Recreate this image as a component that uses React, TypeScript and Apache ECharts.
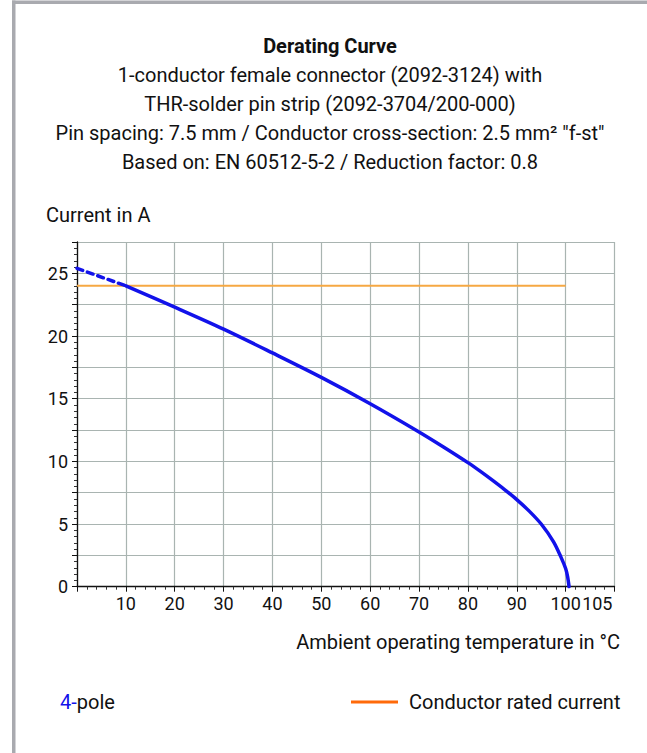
import React, { useEffect, useRef } from "react";
import * as echarts from "echarts";

// ---- data ----
const titleLines = [
  "Derating Curve",
  "1-conductor female connector (2092-3124) with",
  "THR-solder pin strip (2092-3704/200-000)",
  "Pin spacing: 7.5 mm / Conductor cross-section: 2.5 mm² \"f-st\"",
  "Based on: EN 60512-5-2 / Reduction factor: 0.8",
];
const yAxisTitle = "Current in A";
const xAxisTitle = "Ambient operating temperature in °C";
const seriesName = "4-pole";
const ratedName = "Conductor rated current";

// dashed extrapolated part of the 4-pole curve
const dashedX = [0, 10];
const dashedY = [25.4, 24.0];
// solid 4-pole curve
const curveX = [10, 20, 30, 40, 50, 60, 70, 75, 80, 82.5, 85, 87.5, 90, 92.5, 95, 97.5, 99, 100, 100.4, 100.7];
const curveY = [24.0, 22.3, 20.55, 18.65, 16.7, 14.6, 12.35, 11.15, 9.9, 9.22, 8.5, 7.75, 6.95, 6.05, 5.0, 3.6, 2.4, 1.45, 0.8, 0];
// conductor rated current
const ratedX = [0, 100];
const ratedY = [24, 24];

const xTickLabels: Record<number, string> = { 10: "10", 20: "20", 30: "30", 40: "40", 50: "50", 60: "60", 70: "70", 80: "80", 90: "90", 100: "100" };
const xEndLabel = "105";

const FONT = "Roboto, 'Noto Sans', sans-serif";
const BLUE = "#1212ea";

export default function App() {
  const ref = useRef<HTMLDivElement>(null);
  useEffect(() => {
    if (!ref.current) return;
    const chart = echarts.init(ref.current, undefined, { renderer: "svg" });
    const zip = (xs: number[], ys: number[]) => xs.map((x, i) => [x, ys[i]]);
    const titleText = titleLines.map((l, i) => (i === 0 ? `{b|${l}}` : `{n|${l}}`)).join("\n");
    chart.setOption({
      animation: false,
      backgroundColor: "#ffffff",
      textStyle: { fontFamily: FONT },
      grid: { left: 77, top: 242, width: 537.5, height: 344.7, containLabel: false },
      xAxis: [
        {
          type: "value",
          min: 0,
          max: 110,
          interval: 10,
          axisLine: { show: true, onZero: false, lineStyle: { color: "#111", width: 1.3 } },
          axisTick: { show: true, length: 5, lineStyle: { color: "#111" } },
          minorTick: { show: true, splitNumber: 5, length: 3, lineStyle: { color: "#333" } },
          splitLine: { show: true, lineStyle: { color: "#a9b4b1", width: 1.2 } },
          axisLabel: {
            margin: 8,
            color: "#111",
            fontSize: 18,
            fontFamily: FONT,
            showMaxLabel: false,
            formatter: (v: number) => xTickLabels[v] ?? "",
          },
        },
        {
          type: "value",
          position: "bottom",
          min: 0,
          max: 110,
          interval: 10,
          axisLine: { show: false },
          axisTick: { show: false },
          splitLine: { show: false },
          axisLabel: {
            margin: 8,
            color: "#111",
            fontSize: 18,
            fontFamily: FONT,
            align: "right",
            showMaxLabel: true,
            padding: [0, 2, 0, 0],
            formatter: (v: number) => (v === 110 ? xEndLabel : ""),
          },
        },
      ],
      yAxis: {
        type: "value",
        min: 0,
        max: 27.5,
        interval: 2.5,
        axisLine: { show: true, onZero: false, lineStyle: { color: "#111", width: 1.3 } },
        axisTick: { show: true, length: 5, lineStyle: { color: "#111" } },
        minorTick: { show: true, splitNumber: 5, length: 3, lineStyle: { color: "#333" } },
        splitLine: { show: true, lineStyle: { color: "#a9b4b1", width: 1.2 } },
        axisLabel: {
          margin: 9,
          color: "#111",
          fontSize: 18,
          fontFamily: FONT,
          formatter: (v: number) => (v % 5 === 0 ? String(v) : ""),
        },
      },
      series: [
        {
          name: ratedName,
          type: "line",
          data: zip(ratedX, ratedY),
          showSymbol: false,
          silent: true,
          lineStyle: { color: "#f6a843", width: 2 },
        },
        {
          name: seriesName + " (extrapolated)",
          type: "line",
          data: zip(dashedX, dashedY),
          showSymbol: false,
          silent: true,
          lineStyle: { color: BLUE, width: 3.5, type: [6, 5], cap: "round" },
        },
        {
          name: seriesName,
          type: "line",
          data: zip(curveX, curveY),
          showSymbol: false,
          silent: true,
          smooth: 0.3,
          lineStyle: { color: BLUE, width: 3.5, cap: "round" },
        },
      ],
      graphic: [
        { type: "rect", shape: { x: 12, y: 0.5, width: 3.5, height: 753 }, style: { fill: "#a9aaaf" }, silent: true },
        { type: "rect", shape: { x: 12, y: 0.5, width: 635, height: 3.5 }, style: { fill: "#a9aaaf" }, silent: true },
        {
          type: "text",
          x: 330,
          y: 31.5,
          silent: true,
          style: {
            text: titleText,
            align: "center",
            verticalAlign: "top",
            fill: "#111",
            rich: {
              b: { fontFamily: FONT, fontSize: 20, fontWeight: "bold", lineHeight: 29, fill: "#111", align: "center" },
              n: { fontFamily: FONT, fontSize: 20, lineHeight: 29, fill: "#111", align: "center" },
            },
          },
        },
        {
          type: "text",
          x: 46,
          y: 215,
          silent: true,
          style: { text: yAxisTitle, fontFamily: FONT, fontSize: 20, fill: "#111", align: "left", verticalAlign: "middle" },
        },
        {
          type: "text",
          x: 620,
          y: 642,
          silent: true,
          style: { text: xAxisTitle, fontFamily: FONT, fontSize: 20, fill: "#111", align: "right", verticalAlign: "middle" },
        },
        {
          type: "text",
          x: 60,
          y: 702,
          silent: true,
          style: {
            text: "{c|4-}{k|pole}",
            align: "left",
            verticalAlign: "middle",
            rich: {
              c: { fontFamily: FONT, fontSize: 20, fill: BLUE },
              k: { fontFamily: FONT, fontSize: 20, fill: "#111" },
            },
          },
        },
        {
          type: "line",
          silent: true,
          shape: { x1: 351, y1: 702, x2: 398, y2: 702 },
          style: { stroke: "#ff6a0a", lineWidth: 3 },
        },
        {
          type: "text",
          x: 409,
          y: 702,
          silent: true,
          style: { text: ratedName, fontFamily: FONT, fontSize: 20, fill: "#111", align: "left", verticalAlign: "middle" },
        },
      ],
    });
    return () => chart.dispose();
  }, []);
  return (
    <div
      ref={ref}
      style={{ position: "absolute", left: 0, top: 0, width: 647, height: 753, background: "#fff" }}
    />
  );
}
